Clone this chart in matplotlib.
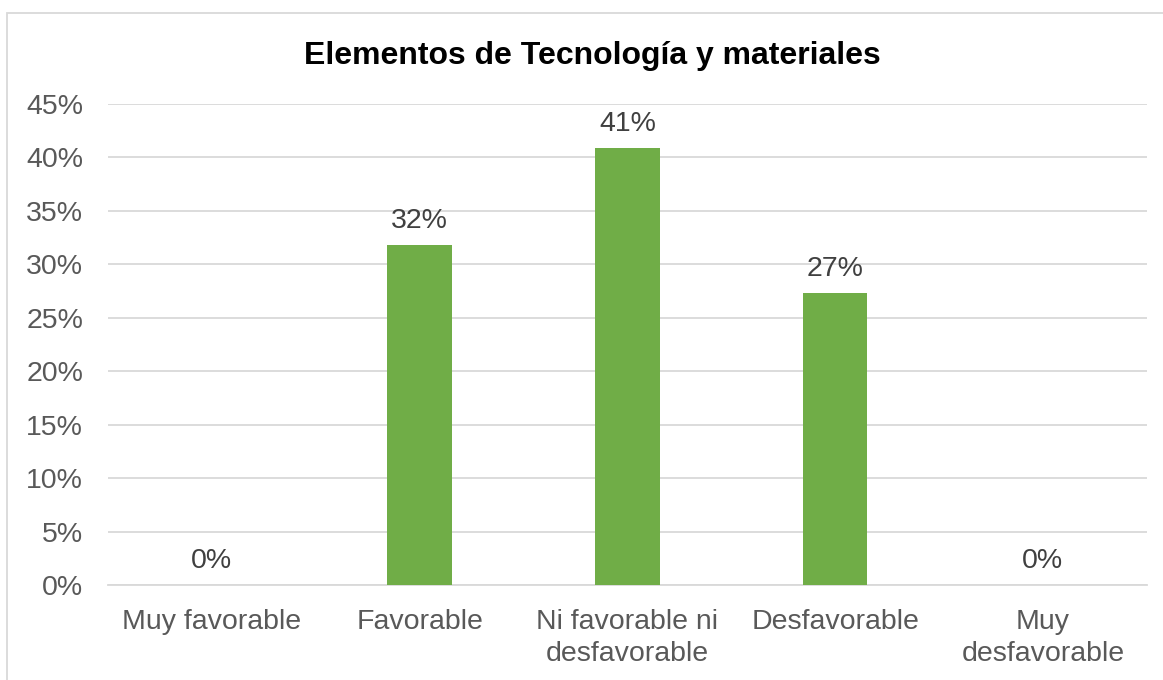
import numpy as np
import matplotlib.pyplot as plt
from matplotlib.patches import Rectangle
from matplotlib.ticker import PercentFormatter

# datos del gráfico
categorias = ['Muy favorable', 'Favorable', 'Ni favorable ni\ndesfavorable',
              'Desfavorable', 'Muy\ndesfavorable']
valores = [0.0, 0.318, 0.409, 0.273, 0.0]
etiquetas = ['0%', '32%', '41%', '27%', '0%']
titulo = 'Elementos de Tecnología y materiales'

plt.rcParams['font.family'] = ['Liberation Sans', 'DejaVu Sans']

fig = plt.figure(figsize=(11.63, 6.8), dpi=100)
ax = fig.add_axes([0.0929, 0.1397, 0.8931, 0.7073])

x = np.arange(len(categorias))
ax.bar(x, valores, width=0.31, color='#70ad47', zorder=3)

# etiquetas de datos
for xi, v, lab in zip(x, valores, etiquetas):
    ax.annotate(lab, (xi, v), xytext=(0, 8), textcoords='offset points',
                ha='center', va='bottom', fontsize=20.5, color='#404040')

ax.set_xlim(-0.5, len(categorias) - 0.5)
ax.set_ylim(0, 0.45)
ax.set_yticks(np.arange(0, 0.451, 0.05))
ax.yaxis.set_major_formatter(PercentFormatter(1.0, decimals=0))
ax.set_xticks(x)
ax.set_xticklabels(categorias, linespacing=1.3)

ax.tick_params(axis='y', length=0, pad=18, labelsize=20.5, labelcolor='#595959')
ax.tick_params(axis='x', length=0, pad=17, labelsize=20.5, labelcolor='#595959')

ax.grid(axis='y', color='#d9d9d9', linewidth=1.3, zorder=0)
for s in ['top', 'right', 'left']:
    ax.spines[s].set_visible(False)
ax.spines['bottom'].set_color('#d9d9d9')
ax.spines['bottom'].set_linewidth(1.3)

fig.text(0.509, 0.918, titulo, ha='center', va='center', fontsize=23,
         fontweight='bold', color='black')

# borde del área del gráfico
fig.patches.append(Rectangle((7 / 1163, -0.01), 1.1, 1 - 13 / 680 + 0.01,
                             transform=fig.transFigure, fill=False,
                             edgecolor='#d9d9d9', linewidth=1.3))

fig.savefig('out.png', dpi=100)
plt.close(fig)
